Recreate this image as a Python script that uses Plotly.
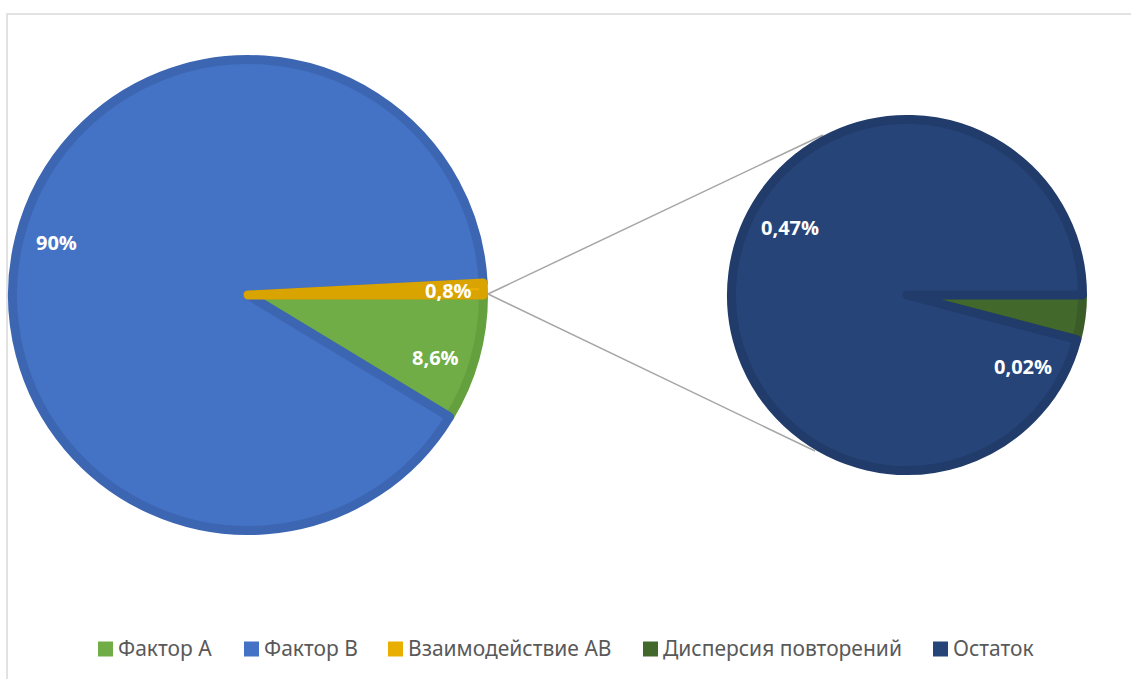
import plotly.graph_objects as go

# --- data -------------------------------------------------------------
main_labels = ["Фактор А", "Фактор В", "Взаимодействие АВ"]
main_values = [8.6, 90.0, 0.8]
main_colors = ["#70AD47", "#4472C4", "#E8AF00"]
main_edges = ["#64A03E", "#3D66B2", "#D9A300"]

sub_labels = ["Дисперсия повторений", "Остаток"]
sub_values = [0.02, 0.47]
sub_colors = ["#43682B", "#264478"]
sub_edges = ["#3B5C26", "#213C6B"]

W, H = 1131, 679


def pct(v):
    return f"{v:g}".replace(".", ",") + "%"


def domain(cx, cy, r):
    """Pie domain (paper coords) for a pie centred at pixel (cx, cy) with radius r."""
    return dict(x=[(cx - r) / W, (cx + r) / W],
                y=[1 - (cy + r) / H, 1 - (cy - r) / H])


def px(x, y):
    return x / W, 1 - y / H


EDGE = 9
main_c, main_r = (248, 295), 240
sub_c, sub_r = (907, 295), 180

fig = go.Figure()

fig.add_trace(go.Pie(
    labels=main_labels, values=main_values, sort=False,
    direction="clockwise", rotation=90,
    marker=dict(colors=main_colors, line=dict(color=main_edges, width=EDGE)),
    textinfo="none", hoverinfo="label+value", showlegend=False,
    domain=domain(*main_c, main_r - EDGE / 2),
))

fig.add_trace(go.Pie(
    labels=sub_labels, values=sub_values, sort=False,
    direction="clockwise", rotation=90,
    marker=dict(colors=sub_colors, line=dict(color=sub_edges, width=EDGE)),
    textinfo="none", hoverinfo="label+value", showlegend=False,
    domain=domain(*sub_c, sub_r - EDGE / 2),
))

# value labels
label_pos = {
    "Фактор А": (435, 357),
    "Фактор В": (56, 242),
    "Взаимодействие АВ": (448, 290),
    "Дисперсия повторений": (1023, 366),
    "Остаток": (790, 228),
}
annotations = []
for lab, val in list(zip(main_labels, main_values)) + list(zip(sub_labels, sub_values)):
    x, y = px(*label_pos[lab])
    annotations.append(dict(
        x=x, y=y, xref="paper", yref="paper", showarrow=False,
        text=f"<b>{pct(val)}</b>",
        font=dict(family="Open Sans", size=20, color="white"),
        xanchor="center", yanchor="middle",
    ))

shapes = []

# connector lines between the pies
for end in [(823, 135), (815, 451)]:
    x0, y0 = px(488, 294)
    x1, y1 = px(*end)
    shapes.append(dict(type="line", xref="paper", yref="paper",
                       x0=x0, y0=y0, x1=x1, y1=y1,
                       line=dict(color="#A6A6A6", width=1.5), layer="below"))

# chart-area frame
fx0, fy1 = px(7, 14)
shapes.append(dict(type="rect", xref="paper", yref="paper",
                   x0=fx0, y0=-0.05, x1=1.05, y1=fy1,
                   line=dict(color="#D9D9D9", width=1.5), layer="below"))

# legend row along the bottom
legend_labels = main_labels + sub_labels
legend_colors = main_colors + sub_colors
legend_x = [98, 244, 388, 643, 933]
legend_y = 649
for lab, col, lx in zip(legend_labels, legend_colors, legend_x):
    x0, y0 = px(lx, legend_y + 7.5)
    x1, y1 = px(lx + 15, legend_y - 7.5)
    shapes.append(dict(type="rect", xref="paper", yref="paper",
                       x0=x0, y0=y0, x1=x1, y1=y1,
                       fillcolor=col, line=dict(width=0)))
    tx, ty = px(lx + 18, legend_y - 1)
    annotations.append(dict(
        x=tx, y=ty, xref="paper", yref="paper", showarrow=False,
        text=lab, xanchor="left", yanchor="middle",
        font=dict(family="Noto Sans", size=21, color="#595959"),
    ))

fig.update_layout(
    width=W, height=H,
    margin=dict(l=0, r=0, t=0, b=0),
    paper_bgcolor="white", plot_bgcolor="white",
    showlegend=False,
    annotations=annotations,
    shapes=shapes,
)

fig.write_html("out.html")
